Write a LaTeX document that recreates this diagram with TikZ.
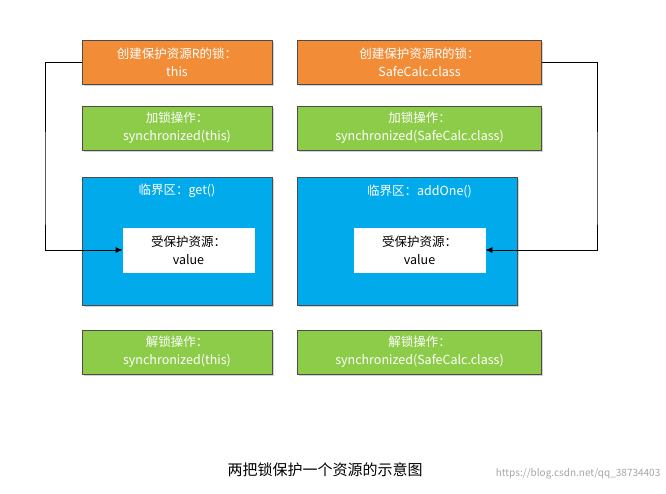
\documentclass[tikz,border=0pt]{standalone}
\usepackage{fontspec}
\setmainfont{Noto Sans CJK SC}
\usetikzlibrary{shadows,patterns,arrows.meta}
\definecolor{lockorange}{RGB}{243,140,55}
\definecolor{lockgreen}{RGB}{140,204,72}
\definecolor{critblue}{RGB}{0,170,235}
\tikzset{every picture/.style={line width=0.75pt}}
\tikzset{
  box/.style={draw=black!70,line width=0.6pt,drop shadow={shadow xshift=1.5pt,shadow yshift=-2pt,opacity=0.35},text=white,align=center,font=\fontsize{12.5}{18}\selectfont,inner sep=0pt},
  res/.style={draw=white,fill=white,align=center,font=\fontsize{12.5}{18}\selectfont,inner sep=0pt},
}
\begin{document}
\begin{tikzpicture}[x=1pt,y=1pt,yscale=-1]
\path[use as bounding box,fill=white] (0,0) rectangle (666,494);

% left column
\node (createL) [box,fill=lockorange,minimum width=190,minimum height=44] at (177,62) {创建保护资源R的锁：\\this};
\node (lockL) [box,fill=lockgreen,minimum width=190,minimum height=44] at (177,128) {加锁操作：\\synchronized(this)};
\node (critL) [box,fill=critblue,minimum width=190,minimum height=128] at (177,241) {};
\node (critLt) [text=white,font=\fontsize{12.5}{18}\selectfont] at (177,191) {临界区：get()};
\node (resL) [res,minimum width=131,minimum height=44] at (188.5,250) {受保护资源：\\value};
\node (unlockL) [box,fill=lockgreen,minimum width=190,minimum height=44] at (177,352) {解锁操作：\\synchronized(this)};

% right column
\node (createR) [box,fill=lockorange,minimum width=244,minimum height=44] at (419.5,62) {创建保护资源R的锁：\\SafeCalc.class};
\node (lockR) [box,fill=lockgreen,minimum width=244,minimum height=44] at (419.5,128) {加锁操作：\\synchronized(SafeCalc.class)};
\node (critR) [box,fill=critblue,minimum width=220,minimum height=128] at (407.5,241) {};
\node (critRt) [text=white,font=\fontsize{12.5}{18}\selectfont] at (419.5,191) {临界区：addOne()};
\node (resR) [res,minimum width=131,minimum height=44] at (419.5,250) {受保护资源：\\value};
\node (unlockR) [box,fill=lockgreen,minimum width=244,minimum height=44] at (419.5,352) {解锁操作：\\synchronized(SafeCalc.class)};

% connectors
\draw[-{Latex[length=7pt,width=6pt]}] (createL.west) -| (45,200) |- (resL.west);
\draw[-{Latex[length=7pt,width=6pt]}] (createR.east) -| (597,200) |- (resR.east);

% caption
\node (caption) [font=\fontsize{15}{18}\selectfont] at (325,470) {两把锁保护一个资源的示意图};
\node (mark) [text=black!35,font=\fontsize{10}{12}\selectfont,anchor=east] at (664,474) {https://blog.csdn.net/qq\_38734403};
\end{tikzpicture}
\end{document}
